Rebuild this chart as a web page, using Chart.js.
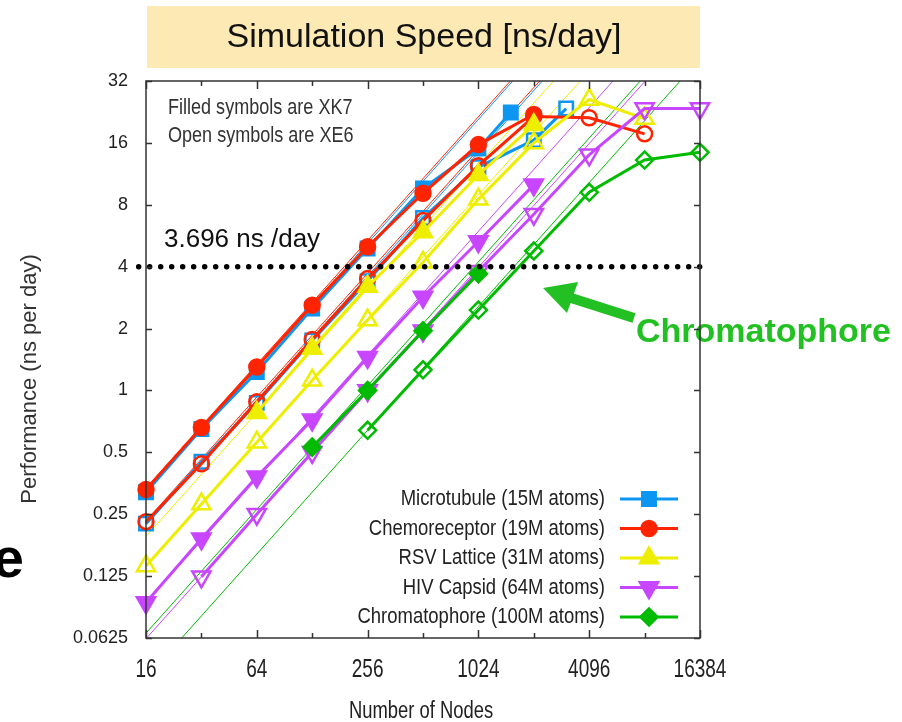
<!DOCTYPE html>
<html>
<head>
<meta charset="utf-8">
<script src="https://cdn.jsdelivr.net/npm/chart.js@4.4.1/dist/chart.umd.min.js"></script>
<style>
  html, body { margin: 0; padding: 0; background: #fff; }
</style>
</head>
<body>
<canvas id="speedChart" width="902" height="722"></canvas>
<script>
// axis ticks
const xTicks = [16, 32, 64, 128, 256, 512, 1024, 2048, 4096, 8192, 16384];
const xLabelled = [16, 64, 256, 1024, 4096, 16384];
const yTicks = [0.0625, 0.125, 0.25, 0.5, 1, 2, 4, 8, 16, 32];

// measured runs, ns/day. XK7 = filled symbols, XE6 = open symbols
const microtubuleXK7Nodes = [16, 32, 64, 128, 256, 512, 1024, 1536];
const microtubuleXK7 = [0.32, 0.65, 1.23, 2.5, 4.9, 9.6, 15, 22.5];
const microtubuleXE6Nodes = [16, 32, 64, 128, 256, 512, 1024, 2048, 3072];
const microtubuleXE6 = [0.225, 0.45, 0.87, 1.75, 3.4, 6.9, 12.2, 16.5, 23.5];

const chemoXK7Nodes = [16, 32, 64, 128, 256, 512, 1024, 2048];
const chemoXK7 = [0.33, 0.66, 1.3, 2.6, 5.0, 9.1, 15.7, 22];
const chemoXE6Nodes = [16, 32, 64, 128, 256, 512, 1024, 2048, 4096, 8192];
const chemoXE6 = [0.23, 0.44, 0.88, 1.77, 3.5, 6.7, 12.4, 21.5, 21.2, 17.7];

const rsvXK7Nodes = [64, 128, 256, 512, 1024, 2048];
const rsvXK7 = [0.78, 1.6, 3.2, 5.9, 11.2, 19.6];
const rsvXE6Nodes = [16, 32, 64, 128, 256, 512, 1024, 2048, 4096, 8192];
const rsvXE6 = [0.14, 0.28, 0.56, 1.12, 2.2, 4.2, 8.5, 16, 26, 21];

const hivXK7Nodes = [16, 32, 64, 128, 256, 512, 1024, 2048];
const hivXK7 = [0.093, 0.19, 0.38, 0.72, 1.45, 2.85, 5.3, 10];
const hivXE6Nodes = [32, 64, 128, 256, 512, 1024, 2048, 4096, 8192, 16384];
const hivXE6 = [0.124, 0.25, 0.5, 1.0, 1.95, 3.8, 7.2, 14, 23.5, 23.5];

const chromaXK7Nodes = [128, 256, 512, 1024];
const chromaXK7 = [0.53, 1.0, 1.95, 3.7];
const chromaXE6Nodes = [256, 512, 1024, 2048, 4096, 8192, 16384];
const chromaXE6 = [0.64, 1.26, 2.46, 4.77, 9.2, 13.2, 14.4];

// thin ideal-scaling lines, value at 16 and at 16384 nodes
const idealNodes = [16, 16384];
const idealMicrotubuleXK7 = [0.325, 333];
const idealMicrotubuleXE6 = [0.225, 230];
const idealChemoXK7 = [0.335, 343];
const idealChemoXE6 = [0.232, 238];
const idealRsvXK7 = [0.195, 200];
const idealRsvXE6 = [0.14, 143];
const idealHivXK7 = [0.093, 95];
const idealHivXE6 = [0.062, 63.5];
const idealChromaXK7 = [0.066, 67.6];
const idealChromaXE6 = [0.04, 41];

// target line
const targetNodes = [14.6, 16384];
const targetValue = [4, 4];

const legendLabels = [
    'Microtubule (15M atoms)',
    'Chemoreceptor (19M atoms)',
    'RSV Lattice (31M atoms)',
    'HIV Capsid (64M atoms)',
    'Chromatophore (100M atoms)',
];

const BLUE = '#0c96f2';
const RED = '#ff2400';
const YELLOW = '#eeee00';
const PURPLE = '#c846ff';
const GREEN = '#00bb00';
const ARROW_GREEN = '#22c022';

const SANS = '"Liberation Sans", Arial, sans-serif';

const markers = {
    blue: { style: 'rect', rotation: 0, radius: 9.5, color: BLUE },
    red: { style: 'circle', rotation: 0, radius: 7.5, color: RED },
    yellow: { style: 'triangle', rotation: 0, radius: 10.5, color: YELLOW },
    purple: { style: 'triangle', rotation: 180, radius: 10.5, color: PURPLE },
    green: { style: 'rectRot', rotation: 0, radius: 8.5, color: GREEN },
};

function points(nodes, vals) {
    return nodes.map((n, i) => ({ x: n, y: vals[i] }));
}

function runSet(m, filled, nodes, vals, order) {
    return {
        data: points(nodes, vals),
        borderColor: m.color,
        backgroundColor: filled ? m.color : 'transparent',
        pointBackgroundColor: filled ? m.color : 'rgba(0,0,0,0)',
        pointBorderColor: m.color,
        pointStyle: m.style,
        pointRotation: m.rotation,
        pointRadius: m.radius,
        pointBorderWidth: 2.5,
        borderWidth: 3,
        tension: 0,
        clip: false,
        order: order,
    };
}

function idealSet(color, vals) {
    return {
        data: points(idealNodes, vals),
        borderColor: color,
        borderWidth: 1,
        pointRadius: 0,
        order: 20,
    };
}

// gnuplot-style condensed text: squeeze Liberation Sans horizontally
function narrowText(ctx, text, x, y, size, squeeze, align) {
    ctx.save();
    ctx.translate(x, y);
    ctx.scale(squeeze, 1);
    ctx.font = size + 'px ' + SANS;
    ctx.textAlign = align;
    ctx.fillText(text, 0, 0);
    ctx.restore();
}

const frameAndNotes = {
    id: 'frameAndNotes',
    afterDraw(chart) {
        const { ctx, chartArea: a, scales: { x, y } } = chart;
        ctx.save();

        // title box
        ctx.fillStyle = '#fde9b4';
        ctx.fillRect(147, 6, 553, 62);
        ctx.fillStyle = '#111';
        ctx.font = '34px ' + SANS;
        ctx.textAlign = 'center';
        ctx.textBaseline = 'middle';
        ctx.fillText('Simulation Speed [ns/day]', 424, 38);

        // y axis title
        ctx.save();
        ctx.translate(30, 379);
        ctx.rotate(-Math.PI / 2);
        ctx.fillStyle = '#333';
        ctx.font = '22px ' + SANS;
        ctx.textAlign = 'center';
        ctx.fillText('Performance (ns per day)', 0, 0);
        ctx.restore();

        // x tick labels and title
        ctx.fillStyle = '#222';
        ctx.textBaseline = 'alphabetic';
        xLabelled.forEach(v => {
            narrowText(ctx, String(v), x.getPixelForValue(v), 677, 25, 0.76, 'center');
        });
        narrowText(ctx, 'Number of Nodes', 421, 718, 23, 0.8, 'center');

        // notes in the plot
        ctx.fillStyle = '#333';
        narrowText(ctx, 'Filled symbols are XK7', 168, 114, 22, 0.82, 'left');
        narrowText(ctx, 'Open symbols are XE6', 168, 142, 22, 0.82, 'left');

        ctx.fillStyle = '#111';
        ctx.font = '26px ' + SANS;
        ctx.textAlign = 'left';
        ctx.textBaseline = 'middle';
        ctx.fillText('3.696 ns /day', 164, 240);

        // arrow towards the chromatophore runs
        ctx.fillStyle = ARROW_GREEN;
        ctx.strokeStyle = ARROW_GREEN;
        ctx.lineWidth = 10;
        ctx.beginPath();
        ctx.moveTo(634, 318);
        ctx.lineTo(568, 297);
        ctx.stroke();
        ctx.beginPath();
        ctx.moveTo(543, 288);
        ctx.lineTo(578, 282);
        ctx.lineTo(567, 313);
        ctx.closePath();
        ctx.fill();
        ctx.font = 'bold 34px ' + SANS;
        ctx.textBaseline = 'alphabetic';
        ctx.fillText('Chromatophore', 636, 342);

        // stray slide text at the left edge
        ctx.fillStyle = '#000';
        ctx.font = 'bold 56px ' + SANS;
        ctx.textAlign = 'right';
        ctx.fillText('e', 24, 577);

        // frame with inward ticks
        ctx.strokeStyle = '#333';
        ctx.lineWidth = 1.5;
        ctx.strokeRect(a.left, a.top, a.right - a.left, a.bottom - a.top);
        ctx.beginPath();
        xTicks.forEach(v => {
            const px = Math.round(x.getPixelForValue(v)) + 0.5;
            const len = xLabelled.includes(v) ? 8 : 5;
            ctx.moveTo(px, a.bottom);
            ctx.lineTo(px, a.bottom - len);
            ctx.moveTo(px, a.top);
            ctx.lineTo(px, a.top + len);
        });
        yTicks.forEach(v => {
            const py = Math.round(y.getPixelForValue(v)) + 0.5;
            ctx.moveTo(a.left, py);
            ctx.lineTo(a.left + 6, py);
            ctx.moveTo(a.right, py);
            ctx.lineTo(a.right - 6, py);
        });
        ctx.stroke();

        // legend, bottom right inside the plot
        const rows = [markers.blue, markers.red, markers.yellow, markers.purple, markers.green];
        rows.forEach((m, i) => {
            const ly = 499 + i * 29.5;
            ctx.fillStyle = '#222';
            ctx.textBaseline = 'middle';
            narrowText(ctx, legendLabels[i], 605, ly, 22, 0.84, 'right');
            ctx.strokeStyle = m.color;
            ctx.lineWidth = 3;
            ctx.beginPath();
            ctx.moveTo(620, ly);
            ctx.lineTo(678, ly);
            ctx.stroke();
            ctx.fillStyle = m.color;
            ctx.lineWidth = 2.5;
            Chart.helpers.drawPoint(ctx, {
                pointStyle: m.style,
                rotation: m.rotation,
                radius: m.radius,
                borderWidth: 2.5,
            }, 649, ly);
        });

        ctx.restore();
    },
};

const chart = new Chart(document.getElementById('speedChart'), {
    type: 'line',
    data: {
        datasets: [
            {
                data: points(targetNodes, targetValue),
                borderColor: '#000',
                borderWidth: 5.5,
                borderDash: [0, 11],
                borderCapStyle: 'round',
                pointRadius: 0,
                clip: false,
                order: 0,
            },
            runSet(markers.green, true, chromaXK7Nodes, chromaXK7, 1),
            runSet(markers.green, false, chromaXE6Nodes, chromaXE6, 2),
            runSet(markers.purple, true, hivXK7Nodes, hivXK7, 3),
            runSet(markers.purple, false, hivXE6Nodes, hivXE6, 4),
            runSet(markers.yellow, true, rsvXK7Nodes, rsvXK7, 5),
            runSet(markers.yellow, false, rsvXE6Nodes, rsvXE6, 6),
            runSet(markers.red, true, chemoXK7Nodes, chemoXK7, 7),
            runSet(markers.red, false, chemoXE6Nodes, chemoXE6, 8),
            runSet(markers.blue, true, microtubuleXK7Nodes, microtubuleXK7, 9),
            runSet(markers.blue, false, microtubuleXE6Nodes, microtubuleXE6, 10),
            idealSet(BLUE, idealMicrotubuleXK7),
            idealSet(BLUE, idealMicrotubuleXE6),
            idealSet(RED, idealChemoXK7),
            idealSet(RED, idealChemoXE6),
            idealSet(YELLOW, idealRsvXK7),
            idealSet(YELLOW, idealRsvXE6),
            idealSet(PURPLE, idealHivXK7),
            idealSet(PURPLE, idealHivXE6),
            idealSet(GREEN, idealChromaXK7),
            idealSet(GREEN, idealChromaXE6),
        ],
    },
    options: {
        responsive: false,
        animation: false,
        layout: { padding: { top: 81, right: 202, left: 0, bottom: 0 } },
        plugins: {
            legend: { display: false },
            tooltip: { enabled: false },
        },
        scales: {
            x: {
                type: 'logarithmic',
                min: 16,
                max: 16384,
                afterBuildTicks: scale => {
                    scale.ticks = xTicks.map(v => ({ value: v }));
                },
                afterFit: scale => {
                    scale.height = 84;
                },
                grid: { display: false, drawTicks: false },
                border: { display: false },
                ticks: { display: false },
            },
            y: {
                type: 'logarithmic',
                min: 0.0625,
                max: 32,
                afterBuildTicks: scale => {
                    scale.ticks = yTicks.map(v => ({ value: v }));
                },
                afterFit: scale => {
                    scale.width = 146;
                },
                grid: { display: false, drawTicks: false },
                border: { display: false },
                ticks: {
                    padding: 18,
                    color: '#222',
                    font: { family: SANS, size: 18 },
                    callback: v => String(v),
                },
            },
        },
    },
    plugins: [frameAndNotes],
});
</script>
</body>
</html>
